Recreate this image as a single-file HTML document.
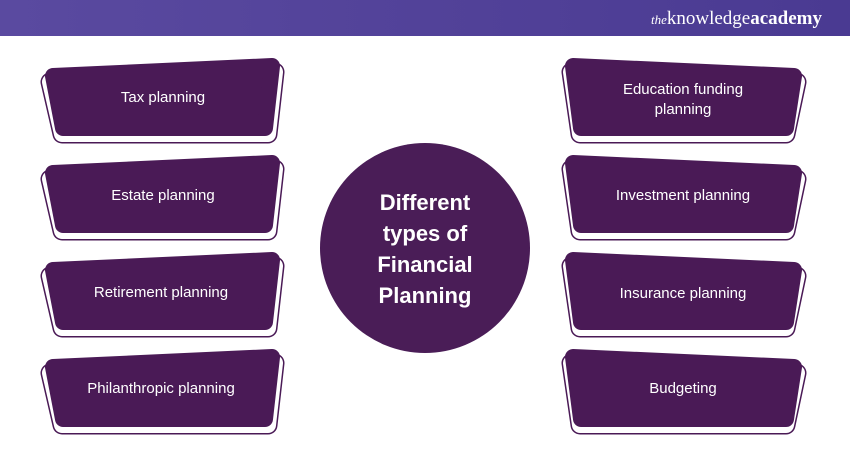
<!DOCTYPE html>
<html><head><style>
body{margin:0;width:850px;height:450px;overflow:hidden;background:#fff;font-family:"Liberation Sans",sans-serif}
</style></head><body>
<svg width="850" height="450" xmlns="http://www.w3.org/2000/svg">
<defs><linearGradient id="g" x1="0" x2="1"><stop offset="0" stop-color="#5a4aa0"/><stop offset="1" stop-color="#4a3a92"/></linearGradient></defs>
<rect width="850" height="36" fill="url(#g)"/>
<text x="822" y="24" text-anchor="end" fill="#fff" font-family="Liberation Serif,serif" font-size="19"><tspan font-style="italic" font-size="13">the</tspan>knowledge<tspan font-weight="bold">academy</tspan></text>
<g stroke-linejoin="round">
<g id="L">
<path d="M50,82 L275,72 L268,134 L62,134 Z" fill="#4a1a56" stroke="#4a1a56" stroke-width="19"/>
<path d="M50,82 L275,72 L268,134 L62,134 Z" fill="#fff" stroke="#fff" stroke-width="16"/>
<path d="M53,76 L272,66 L265,128 L63,128 Z" fill="#4a1a56" stroke="#4a1a56" stroke-width="16"/>
</g>
<use href="#L" y="97"/><use href="#L" y="194"/><use href="#L" y="291"/>
<g id="R">
<path d="M571,72 L797,82 L786,134 L580,134 Z" fill="#4a1a56" stroke="#4a1a56" stroke-width="19"/>
<path d="M571,72 L797,82 L786,134 L580,134 Z" fill="#fff" stroke="#fff" stroke-width="16"/>
<path d="M573,66 L794,76 L786,128 L581,128 Z" fill="#4a1a56" stroke="#4a1a56" stroke-width="16"/>
</g>
<use href="#R" y="97"/><use href="#R" y="194"/><use href="#R" y="291"/>
</g>
<circle cx="425" cy="248" r="105" fill="#4a1d57"/>
<g fill="#fff" font-size="15" text-anchor="middle">
<text x="163" y="102">Tax planning</text>
<text x="163" y="200">Estate planning</text>
<text x="161" y="297">Retirement planning</text>
<text x="161" y="393">Philanthropic planning</text>
<text x="683" y="94">Education funding</text>
<text x="683" y="114">planning</text>
<text x="683" y="200">Investment planning</text>
<text x="683" y="298">Insurance planning</text>
<text x="683" y="393">Budgeting</text>
</g>
<g fill="#fff" font-size="22" font-weight="bold" text-anchor="middle">
<text x="425" y="210">Different</text>
<text x="425" y="241">types of</text>
<text x="425" y="272">Financial</text>
<text x="425" y="303">Planning</text>
</g>
</svg>
</body></html>
